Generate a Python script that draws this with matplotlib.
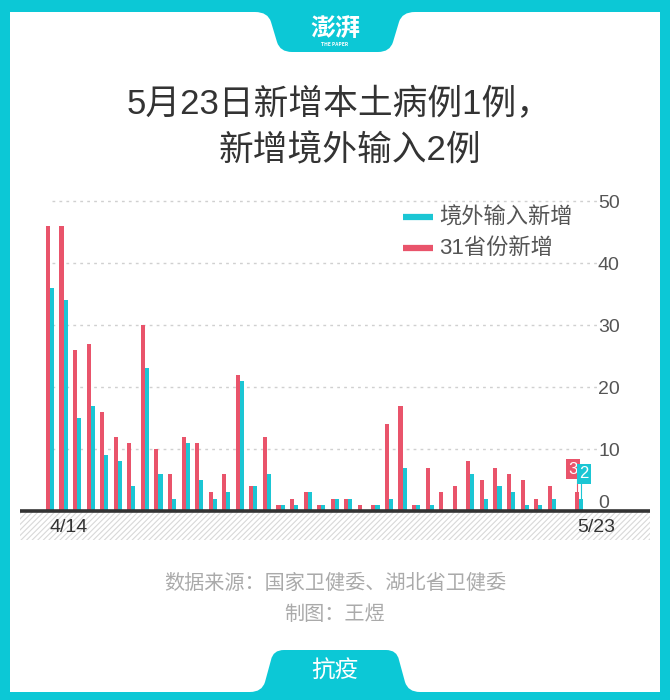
import matplotlib
matplotlib.use('Agg')
import matplotlib.pyplot as plt
import numpy as np
from matplotlib.patches import Rectangle, PathPatch
from matplotlib.path import Path
from matplotlib.lines import Line2D

plt.rcParams['font.family'] = ['Noto Sans CJK SC', 'DejaVu Sans']
plt.rcParams['hatch.linewidth'] = 0.8
NUM_FONT = ['Liberation Sans', 'DejaVu Sans']
TITLE_FONT = ['Liberation Sans', 'Noto Sans CJK SC']

# daily numbers 4/14 .. 5/23
dates = ['4/14', '4/15', '4/16', '4/17', '4/18', '4/19', '4/20', '4/21', '4/22', '4/23',
         '4/24', '4/25', '4/26', '4/27', '4/28', '4/29', '4/30', '5/1', '5/2', '5/3',
         '5/4', '5/5', '5/6', '5/7', '5/8', '5/9', '5/10', '5/11', '5/12', '5/13',
         '5/14', '5/15', '5/16', '5/17', '5/18', '5/19', '5/20', '5/21', '5/22', '5/23']
total_new = [46, 46, 26, 27, 16, 12, 11, 30, 10, 6,
             12, 11, 3, 6, 22, 4, 12, 1, 2, 3,
             1, 2, 2, 1, 1, 14, 17, 1, 7, 3,
             4, 8, 5, 7, 6, 5, 2, 4, 0, 3]
imported_new = [36, 34, 15, 17, 9, 8, 4, 23, 6, 2,
                11, 5, 2, 3, 21, 4, 6, 1, 1, 3,
                1, 2, 2, 0, 1, 2, 7, 1, 1, 0,
                0, 6, 2, 4, 3, 1, 1, 2, 0, 2]
y_ticks = [0, 10, 20, 30, 40, 50]
label_imported = '境外输入新增'
label_total = '31省份新增'

RED = '#e9546b'
CYAN = '#1bc6d4'
FRAME = '#0cc8d6'

W, H = 670, 700
fig = plt.figure(figsize=(W / 100, H / 100), dpi=100, facecolor=FRAME)

# background layer in pixel coordinates (y down)
bg = fig.add_axes([0, 0, 1, 1], zorder=0)
bg.set_xlim(0, W)
bg.set_ylim(H, 0)
bg.axis('off')
bg.add_patch(Rectangle((10, 12), 650, 680, facecolor='white', edgecolor='none'))

top_tab = Path(
    [(255, 12), (268, 12), (271, 22), (277, 42), (280, 52), (292, 52),
     (378, 52), (390, 52), (393, 42), (399, 22), (402, 12), (415, 12), (255, 12)],
    [Path.MOVETO, Path.CURVE3, Path.CURVE3, Path.LINETO, Path.CURVE3, Path.CURVE3,
     Path.LINETO, Path.CURVE3, Path.CURVE3, Path.LINETO, Path.CURVE3, Path.CURVE3, Path.CLOSEPOLY])
bg.add_patch(PathPatch(top_tab, facecolor=FRAME, edgecolor='none'))
bot_tab = Path(
    [(250, 692), (262, 692), (265, 682), (271, 660), (273, 650), (284, 650),
     (386, 650), (397, 650), (399, 660), (405, 682), (408, 692), (420, 692), (250, 692)],
    [Path.MOVETO, Path.CURVE3, Path.CURVE3, Path.LINETO, Path.CURVE3, Path.CURVE3,
     Path.LINETO, Path.CURVE3, Path.CURVE3, Path.LINETO, Path.CURVE3, Path.CURVE3, Path.CLOSEPOLY])
bg.add_patch(PathPatch(bot_tab, facecolor=FRAME, edgecolor='none'))

bg.text(335, 29, '澎湃', color='white', fontsize=18, fontweight='bold',
        fontstyle='italic', ha='center', va='center')
bg.text(335, 45, 'THE PAPER', color='white', fontsize=3.5, fontweight='bold',
        ha='center', va='center')
bg.text(339, 105, '5月23日新增本土病例1例，', color='#333333', fontsize=25,
        family=TITLE_FONT, ha='center', va='center')
bg.text(350, 151, '新增境外输入2例', color='#333333', fontsize=25,
        family=TITLE_FONT, ha='center', va='center')
bg.text(335, 583, '数据来源：国家卫健委、湖北省卫健委', color='#aaaaaa', fontsize=14.5,
        ha='center', va='center')
bg.text(335, 614, '制图：王煜', color='#aaaaaa', fontsize=14.5,
        ha='center', va='center')
bg.text(335, 671, '抗疫', color='white', fontsize=17, ha='center', va='center')

# legend
bg.add_line(Line2D([403, 433], [217, 217], color=CYAN, lw=4.5, solid_capstyle='butt'))
bg.add_line(Line2D([403, 433], [248, 248], color=RED, lw=4.5, solid_capstyle='butt'))
bg.text(439, 217, label_imported, color='#555555', fontsize=16, ha='left', va='center')
bg.text(439, 248, label_total, color='#555555', fontsize=16, ha='left', va='center',
        family=['Liberation Sans', 'Noto Sans CJK SC'])

# chart axes: pixel box 20..650 x 190..540, baseline at y=511
px_x0, px_step = 50.0, 13.56
px_y0, px_unit = 511.0, 6.2
ax = fig.add_axes([20 / W, 1 - 540 / H, 630 / W, 350 / H], zorder=1)
ax.patch.set_alpha(0)
ax.set_xlim((20 - px_x0) / px_step, (650 - px_x0) / px_step)
ax.set_ylim((px_y0 - 540) / px_unit, (px_y0 - 190) / px_unit)
ax.axis('off')

x = np.arange(len(dates))
xmin, xmax = ax.get_xlim()
ymin, _ = ax.get_ylim()

ax.add_patch(Rectangle((xmin, ymin), xmax - xmin, -ymin, facecolor='white',
                       edgecolor='#d8d8d8', hatch='//////', lw=0, zorder=1))

gx0 = (52 - px_x0) / px_step
gx1 = (600 - px_x0) / px_step
for v in y_ticks[1:]:
    ax.plot([gx0, gx1], [v, v], ls=(0, (2, 3)), color='#d0d0d0', lw=1, zorder=1)
lx = (598 - px_x0) / px_step
for v in y_ticks:
    ax.text(lx, v + (1.2 if v == 0 else -0.4), str(v), ha='left', va='center',
            fontsize=14, color='#555555', family=NUM_FONT)

ax.bar(x - 0.15, total_new, width=0.3, color=RED, zorder=3)
ax.bar(x + 0.15, imported_new, width=0.3, color=CYAN, zorder=3)
ax.axhline(0, color='#333333', lw=2.6, zorder=4)

ty = (px_y0 - 527) / px_unit
ax.text(x[0] - 0.05, ty, dates[0], ha='left', va='center', fontsize=14,
        color='#333333', family=NUM_FONT)
ax.text(x[-1] - 0.15, ty, dates[-1], ha='left', va='center', fontsize=14,
        color='#333333', family=NUM_FONT)

# last-day value flags
i = len(dates) - 1
ax.plot([x[i] - 0.15, x[i] - 0.15], [total_new[i], 5.0], color=RED, lw=0.8, zorder=3)
ax.plot([x[i] + 0.15, x[i] + 0.15], [imported_new[i], 4.3], color=CYAN, lw=0.8, zorder=3)
ax.text(x[i] - 0.45, 6.7, str(total_new[i]), ha='center', va='center', fontsize=12,
        color='white', family=NUM_FONT,
        bbox=dict(boxstyle='square,pad=0.15', fc=RED, ec='none'), zorder=5)
ax.text(x[i] + 0.4, 6.0, str(imported_new[i]), ha='center', va='center', fontsize=12,
        color='white', family=NUM_FONT,
        bbox=dict(boxstyle='square,pad=0.15', fc=CYAN, ec='none'), zorder=5)

fig.savefig('out.png', dpi=100, facecolor=FRAME)
